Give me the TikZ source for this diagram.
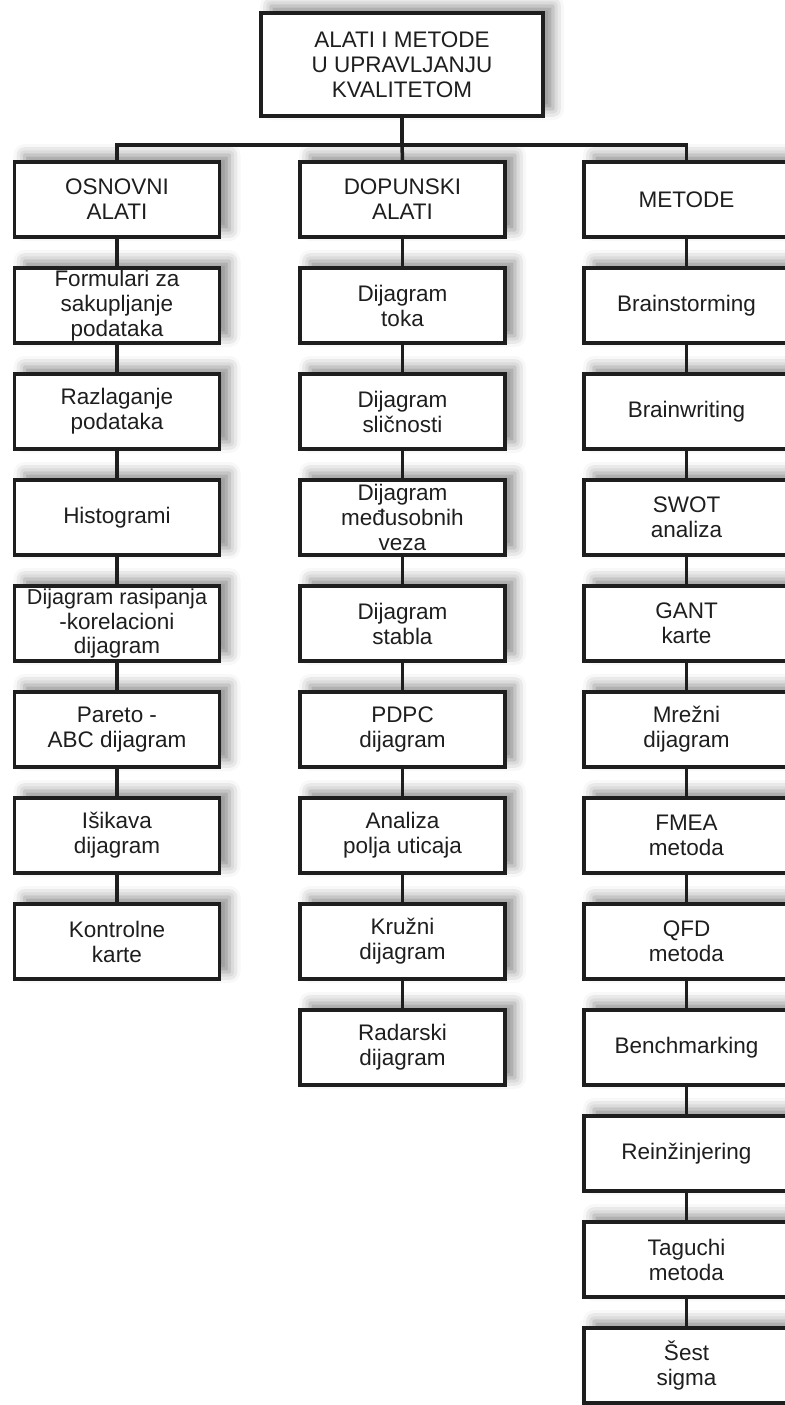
\documentclass[tikz,border=0pt]{standalone}
\usepackage{fontspec}
\setmainfont{Liberation Sans}
\usetikzlibrary{shadows.blur}
\definecolor{inkgray}{RGB}{30,30,30}
\tikzset{
	box/.style={draw=inkgray, line width=2.1pt, fill=white, text=inkgray,
		minimum width=4.1cm, minimum height=1.5cm, inner sep=0pt, align=center,
		font=\fontsize{12.8}{14.2}\selectfont,
		blur shadow={shadow xshift=0.2cm, shadow yshift=0.14cm, shadow blur radius=0.22cm, shadow opacity=45}},
	title/.style={box, minimum width=5.64cm, minimum height=2.06cm},
	link/.style={draw=inkgray, line width=2pt}
}
\begin{document}
\begin{tikzpicture}
		\useasboundingbox (0,0) rectangle (15.7,-28.1);
		
		% Root
		\node[title] (root) at (8.04,-1.29) {ALATI I METODE\\U UPRAVLJANJU\\KVALITETOM};
		
		% Group headers
		\node[box] (osnovni) at (2.34,-3.99) {OSNOVNI\\ALATI};
		\node[box] (dopunski) at (8.05,-3.99) {DOPUNSKI\\ALATI};
		\node[box] (metode) at (13.73,-3.99) {METODE};
		
		% Osnovni alati
		\node[box] (formulari) at (2.34,-6.11) {Formulari za\\sakupljanje\\podataka};
		\node[box] (razlaganje) at (2.34,-8.23) {Razlaganje\\podataka};
		\node[box] (histogrami) at (2.34,-10.35) {Histogrami};
		\node[box] (rasipanje) at (2.34,-12.47) {{\fontsize{12.3}{14.2}\selectfont Dijagram rasipanja}\\-korelacioni\\dijagram};
		\node[box] (pareto) at (2.34,-14.59) {Pareto -\\ABC dijagram};
		\node[box] (isikava) at (2.34,-16.71) {Išikava\\dijagram};
		\node[box] (kontrolne) at (2.34,-18.83) {Kontrolne\\karte};
		
		% Dopunski alati
		\node[box] (toka) at (8.05,-6.11) {Dijagram\\toka};
		\node[box] (slicnosti) at (8.05,-8.23) {Dijagram\\sličnosti};
		\node[box] (veza) at (8.05,-10.35) {Dijagram\\međusobnih\\veza};
		\node[box] (stabla) at (8.05,-12.47) {Dijagram\\stabla};
		\node[box] (pdpc) at (8.05,-14.59) {PDPC\\dijagram};
		\node[box] (polja) at (8.05,-16.71) {Analiza\\polja uticaja};
		\node[box] (kruzni) at (8.05,-18.83) {Kružni\\dijagram};
		\node[box] (radarski) at (8.05,-20.95) {Radarski\\dijagram};
		
		% Metode
		\node[box] (brainstorming) at (13.73,-6.11) {Brainstorming};
		\node[box] (brainwriting) at (13.73,-8.23) {Brainwriting};
		\node[box] (swot) at (13.73,-10.35) {SWOT\\analiza};
		\node[box] (gant) at (13.73,-12.47) {GANT\\karte};
		\node[box] (mrezni) at (13.73,-14.59) {Mrežni\\dijagram};
		\node[box] (fmea) at (13.73,-16.71) {FMEA\\metoda};
		\node[box] (qfd) at (13.73,-18.83) {QFD\\metoda};
		\node[box] (benchmarking) at (13.73,-20.95) {Benchmarking};
		\node[box] (reinzinjering) at (13.73,-23.07) {Reinžinjering};
		\node[box] (taguchi) at (13.73,-25.19) {Taguchi\\metoda};
		\node[box] (sigma) at (13.73,-27.31) {Šest\\sigma};
		
		% Branches
		\draw[link] (root.south) -- ++(0,-0.54) coordinate (split);
		\draw[link] (osnovni.north) |- (split) -| (metode.north);
		\draw[link] (split) -- (dopunski.north);
		
		% Columns
		\draw[link] (osnovni) -- (formulari) -- (razlaganje) -- (histogrami) -- (rasipanje) -- (pareto) -- (isikava) -- (kontrolne);
		\draw[link] (dopunski) -- (toka) -- (slicnosti) -- (veza) -- (stabla) -- (pdpc) -- (polja) -- (kruzni) -- (radarski);
		\draw[link] (metode) -- (brainstorming) -- (brainwriting) -- (swot) -- (gant) -- (mrezni) -- (fmea) -- (qfd) -- (benchmarking) -- (reinzinjering) -- (taguchi) -- (sigma);
	\end{tikzpicture}
\end{document}
